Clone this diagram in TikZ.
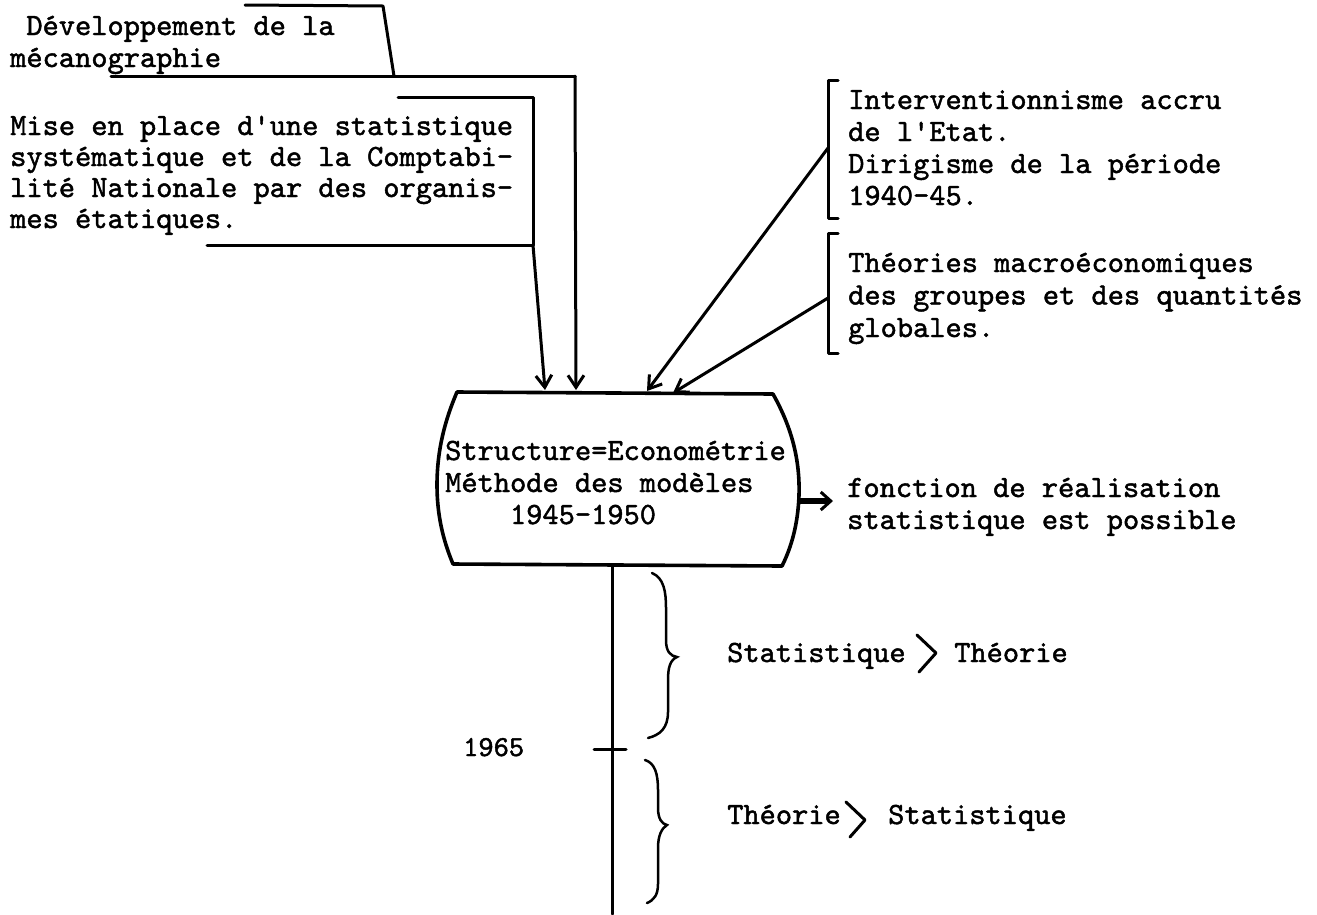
\documentclass[tikz,border=0pt]{standalone}
\usepackage{fontspec}
\newfontfamily\tw{lmmono10-regular.otf}[FakeBold=1.5]
\usetikzlibrary{arrows.meta}
\begin{document}
\begin{tikzpicture}[x=1pt,y=-1pt,
  txt/.style={font=\tw\fontsize{30.9}{32}\selectfont, align=left, inner sep=0pt, anchor=base west},
  ln/.style={line width=3pt, line cap=round, line join=round},
  thick line/.style={line width=3.6pt, line join=round},
  arr/.style={ln, -{Straight Barb[length=12pt,width=16pt]}},
  brace/.style={line width=2.5pt, line cap=round},
]
\fill[white] (0,0) rectangle (1317,914);
\useasboundingbox (0,0) rectangle (1317,914);

% ---------- texts (base anchor = baseline of the last line) ----------
\node[txt] (dev) at (10,67) {\hspace*{16.2pt}Développement de la\\mécanographie};
\node[txt, font=\tw\fontsize{30.9}{31}\selectfont] (mise) at (10,228)
  {Mise en place d'une statistique\\systématique et de la Comptabi-\\lité Nationale par des organis-\\mes étatiques.};
\node[txt] (etat) at (848,205) {Interventionnisme accru\\de l'Etat.\\Dirigisme de la période\\1940–45.};
\node[txt, font=\tw\fontsize{30.9}{32.5}\selectfont] (macro) at (848,337) {Théories macroéconomiques\\des groupes et des quantités\\globales.};
\node[txt] (box) at (445,524) {Structure=Econométrie\\Méthode des modèles\\\hspace*{64.8pt}1945–1950};
\node[txt] (fonc) at (847,529) {fonction de réalisation\\statistique est possible};
\node[txt, font=\tw\fontsize{29}{29}\selectfont] (y65) at (463,756) {1965};
\node[txt] (s1a) at (727,662) {Statistique};
\node[txt] (s1b) at (954,662) {Théorie};
\node[txt] (s2a) at (727,824) {Théorie};
\node[txt] (s2b) at (888,824) {Statistique};

% ---------- coordinates ----------
\coordinate (d1) at (245,5);
\coordinate (d2) at (383,6);
\coordinate (d3) at (394,76);
\coordinate (d0) at (111,76);
\coordinate (d4) at (575,76);
\coordinate (t2) at (576,390);
\coordinate (m1) at (398,97);
\coordinate (m2) at (533,97);
\coordinate (m3) at (533,245);
\coordinate (m0) at (207,245);
\coordinate (t1) at (545,390);
\coordinate (r1) at (828,148);
\coordinate (t3) at (647,391);
\coordinate (r2) at (828,298);
\coordinate (t4) at (673,393);
\coordinate (bx1) at (457,392);
\coordinate (bx2) at (773,394);
\coordinate (bx3) at (782,566);
\coordinate (bx4) at (453,564);
\coordinate (o1) at (799,501);
\coordinate (o2) at (833,501);
\coordinate (tl0) at (612,565);
\coordinate (tl1) at (612,914);
\coordinate (k1) at (594,749);
\coordinate (k2) at (626,749);

% ---------- central box ----------
\draw[thick line] (bx1) -- (bx2) .. controls (792,428) and (800,460) .. (799,495)
  .. controls (798,525) and (791,548) .. (bx3) -- (bx4)
  .. controls (443,540) and (437,515) .. (437,485)
  .. controls (437,450) and (445,420) .. (bx1) -- cycle;

% ---------- left connectors ----------
\draw[ln] (d1) -- (d2) -- (d3);
\draw[ln] (d0) -- (d4);
\draw[arr] (d4) -- (t2);
\draw[ln] (m1) -- (m2) -- (m3);
\draw[ln] (m0) -- (m3);
\draw[arr] (m3) -- (t1);

% ---------- right brackets and connectors ----------
\draw[ln] (838,80) -- (828,80) -- (828,218) -- (838,218);
\draw[ln] (838,233) -- (828,233) -- (828,353) -- (838,353);
\draw[arr] (r1) -- (t3);
\draw[arr] (r2) -- (t4);

% ---------- output arrow ----------
\draw[line width=5.5pt, -{Straight Barb[length=10pt,width=18pt,line width=3pt]}] (o1) -- (o2);

% ---------- timeline ----------
\draw[ln] (tl0) -- (tl1);
\draw[ln] (k1) -- (k2);

% ---------- braces ----------
\draw[brace] (652,573) .. controls (664,578) and (666,592) .. (666,608) -- (666,640)
  .. controls (666,651) and (670,656) .. (677,657)
  .. controls (670,660) and (668,668) .. (668,680) -- (668,712)
  .. controls (668,728) and (660,735) .. (648,738);
\draw[brace] (645,760) .. controls (655,763) and (658,774) .. (658,790) -- (658,808)
  .. controls (658,819) and (662,824) .. (667,825)
  .. controls (662,828) and (658,835) .. (658,848) -- (658,884)
  .. controls (658,895) and (654,900) .. (647,903);

% ---------- chevrons ----------
\draw[ln] (917,635) -- (936,653) -- (919,672);
\draw[ln] (846,802) -- (865,820) -- (850,837);
\end{tikzpicture}
\end{document}
